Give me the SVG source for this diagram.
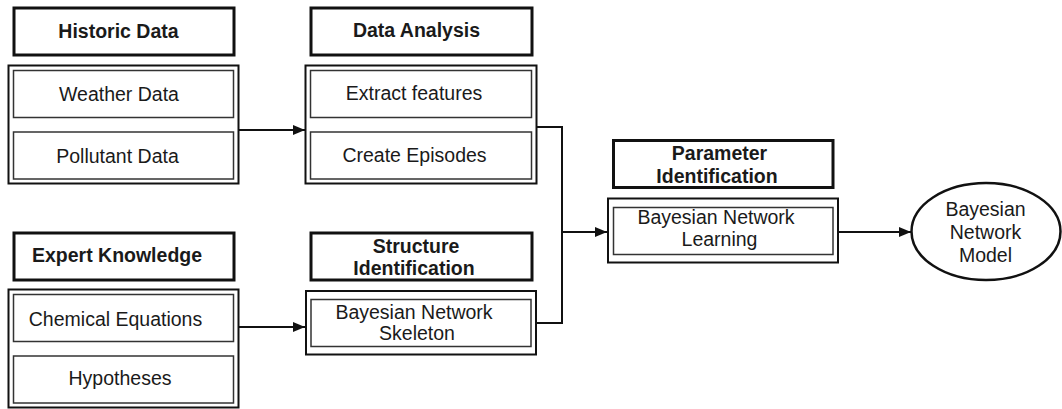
<svg xmlns="http://www.w3.org/2000/svg" width="1062" height="409" viewBox="0 0 1062 409">
  <defs>
    <marker id="arrow" viewBox="0 0 12 10" refX="12" refY="5" markerWidth="12" markerHeight="10" markerUnits="userSpaceOnUse" orient="auto">
      <path d="M0,0 L12,5 L0,10 Z" fill="#111"/>
    </marker>
  </defs>
  <style>
    .hdr { fill: #fff; stroke: #111; stroke-width: 3; }
    .outer { fill: #fff; stroke: #111; stroke-width: 2; }
    .inner { fill: #fff; stroke: #333; stroke-width: 1.5; }
    .wire { fill: none; stroke: #111; stroke-width: 2; }
    text { font-family: "Liberation Sans", Arial, sans-serif; font-size: 19.5px; fill: #1a1a1a; text-anchor: middle; }
    .b { font-weight: bold; }
  </style>
  <rect width="1062" height="409" fill="#fff"/>

  <!-- Historic Data -->
  <g id="historic-data">
    <rect class="hdr" x="14" y="8" width="220" height="47"/>
    <text class="b" x="118.5" y="38">Historic Data</text>
    <rect class="outer" x="8.5" y="65.5" width="230" height="118"/>
    <rect class="inner" x="13.5" y="70.5" width="220" height="47"/>
    <text x="119" y="101">Weather Data</text>
    <rect class="inner" x="13.5" y="132" width="220" height="47"/>
    <text x="117.5" y="163">Pollutant Data</text>
  </g>

  <!-- Data Analysis -->
  <g id="data-analysis">
    <rect class="hdr" x="311" y="8" width="221" height="47"/>
    <text class="b" x="416.5" y="37">Data Analysis</text>
    <rect class="outer" x="305.5" y="65.5" width="231" height="118"/>
    <rect class="inner" x="310.5" y="70.5" width="221" height="47"/>
    <text x="414" y="100">Extract features</text>
    <rect class="inner" x="310.5" y="132" width="221" height="47"/>
    <text x="414.5" y="162">Create Episodes</text>
  </g>

  <!-- Expert Knowledge -->
  <g id="expert-knowledge">
    <rect class="hdr" x="14" y="233" width="220" height="47"/>
    <text class="b" x="117" y="262">Expert Knowledge</text>
    <rect class="outer" x="8.5" y="289.5" width="230" height="118"/>
    <rect class="inner" x="13.5" y="294.5" width="220" height="47"/>
    <text x="115.5" y="326">Chemical Equations</text>
    <rect class="inner" x="13.5" y="356" width="220" height="47"/>
    <text x="120" y="385">Hypotheses</text>
  </g>

  <!-- Structure Identification -->
  <g id="structure-identification">
    <rect class="hdr" x="311" y="233" width="221" height="47"/>
    <text class="b" x="416" y="253">Structure</text>
    <text class="b" x="414" y="275">Identification</text>
    <rect class="outer" x="306" y="291" width="230" height="63.5"/>
    <rect class="inner" x="311" y="299.5" width="220" height="47"/>
    <text x="414" y="319">Bayesian Network</text>
    <text x="417" y="340">Skeleton</text>
  </g>

  <!-- Parameter Identification -->
  <g id="parameter-identification">
    <rect class="hdr" x="613.5" y="140.5" width="219.5" height="47"/>
    <text class="b" x="719.5" y="160">Parameter</text>
    <text class="b" x="717" y="183">Identification</text>
    <rect class="outer" x="608" y="198.5" width="230" height="64"/>
    <rect class="inner" x="613.5" y="207.5" width="219.5" height="47"/>
    <text x="716" y="224">Bayesian Network</text>
    <text x="719.5" y="246">Learning</text>
  </g>

  <!-- Bayesian Network Model -->
  <g id="network-model">
    <ellipse cx="986" cy="231.5" rx="74.5" ry="48.5" fill="#fff" stroke="#111" stroke-width="2.5"/>
    <text x="985.5" y="216">Bayesian</text>
    <text x="985.5" y="239">Network</text>
    <text x="985.5" y="262">Model</text>
  </g>

  <!-- Connectors -->
  <g id="connectors">
    <line class="wire" x1="239" y1="130" x2="305" y2="130" marker-end="url(#arrow)"/>
    <line class="wire" x1="239" y1="327" x2="305" y2="327" marker-end="url(#arrow)"/>
    <polyline class="wire" points="537,127 562,127 562,323 537,323"/>
    <line class="wire" x1="562" y1="232" x2="607" y2="232" marker-end="url(#arrow)"/>
    <line class="wire" x1="838" y1="232" x2="911" y2="232" marker-end="url(#arrow)"/>
  </g>
</svg>
